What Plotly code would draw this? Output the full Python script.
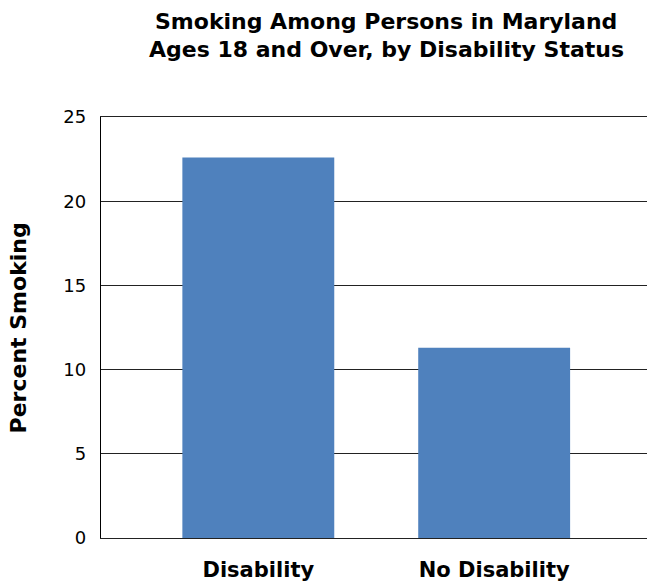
import plotly.graph_objects as go

categories = ["Disability", "No Disability"]
percent_smoking = [22.6, 11.3]
y_ticks = [0, 5, 10, 15, 20, 25]
title_lines = ["Smoking Among Persons in Maryland", "Ages 18 and Over, by Disability Status"]

W, H = 647, 585
L, R, T, B = 100.7, 0, 116.5, 46.7
PW, PH = W - L - R, H - T - B
FONT = "DejaVu Sans"


def px_x(x):
    return (x - L) / PW


def px_y(y):
    return (H - B - y) / PH


fig = go.Figure(
    go.Bar(
        x=categories,
        y=percent_smoking,
        width=0.644,
        marker=dict(color="#4F81BD", line=dict(width=0)),
        hoverinfo="x+y",
    )
)

annotations = [
    dict(
        text="<b>" + line + "</b>",
        xref="paper", yref="paper",
        x=px_x(386), y=px_y(yc),
        xanchor="center", yanchor="middle",
        showarrow=False,
        font=dict(family=FONT, size=22, color="#000000"),
    )
    for line, yc in zip(title_lines, [21, 49])
]
annotations.append(
    dict(
        text="<b>Percent Smoking</b>",
        textangle=-90,
        xref="paper", yref="paper",
        x=px_x(18), y=px_y(328),
        xanchor="center", yanchor="middle",
        showarrow=False,
        font=dict(family=FONT, size=22, color="#000000"),
    )
)

fig.update_layout(
    width=W,
    height=H,
    margin=dict(l=L, r=R, t=T, b=B, pad=0),
    paper_bgcolor="white",
    plot_bgcolor="white",
    showlegend=False,
    font=dict(family=FONT, color="#000000"),
    xaxis=dict(
        range=[-0.667, 1.648],
        showgrid=False,
        showline=True,
        mirror=True,
        linecolor="#222222",
        linewidth=1,
        zeroline=False,
        ticks="",
        tickfont=dict(family=FONT, size=21, color="#000000"),
        tickprefix="<b>",
        ticksuffix="</b>",
        ticklabelstandoff=13,
    ),
    yaxis=dict(
        range=[0, 25],
        tickvals=y_ticks,
        showgrid=True,
        gridcolor="#222222",
        gridwidth=1,
        zeroline=True,
        zerolinecolor="#000000",
        zerolinewidth=1.3,
        showline=True,
        linecolor="#000000",
        linewidth=1.3,
        ticks="",
        tickfont=dict(family=FONT, size=18, color="#000000"),
        ticklabelstandoff=10,
    ),
    annotations=annotations,
)

fig.write_html(
    "out.html",
    config={"displayModeBar": False},
    post_script="document.body.style.margin='0';document.body.style.overflow='hidden';",
)
